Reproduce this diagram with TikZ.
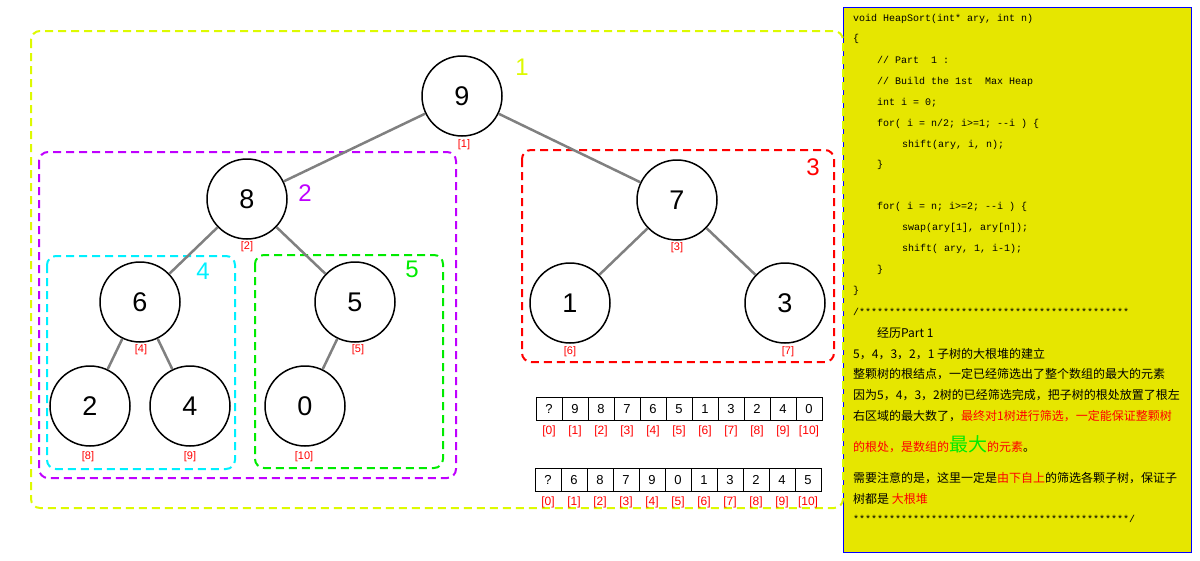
\documentclass[tikz,border=0pt]{standalone}
\usepackage{fontspec}
\setmainfont{Liberation Sans}
\setmonofont{Liberation Mono}
\newfontfamily\cjk{Noto Sans CJK SC}
\definecolor{pannello}{RGB}{230,230,0}
\definecolor{gialloverde}{RGB}{221,250,0}
\definecolor{viola}{RGB}{191,0,255}
\definecolor{verde}{RGB}{0,235,0}
\definecolor{ciano}{RGB}{0,240,255}
\tikzset{
    nodo/.style={circle, draw, line width=1.5pt, fill=white, minimum size=80pt, inner sep=0pt, font=\fontsize{27}{28}\selectfont},
    ramo/.style={gray, line width=2.5pt},
    indice/.style={text=red, inner sep=0pt, font=\fontsize{11}{12}\selectfont},
    riquadro/.style={line width=2pt, rounded corners=9pt, dash pattern=on 8pt off 5pt},
    numero/.style={inner sep=0pt, font=\fontsize{24}{26}\selectfont},
    cella/.style={draw, line width=1pt, minimum width=26pt, minimum height=23pt, inner sep=0pt, font=\fontsize{13}{14}\selectfont},
    codice/.style={anchor=base west, inner sep=0pt, font=\ttfamily\fontsize{10}{12}\selectfont},
    testo/.style={anchor=base west, inner sep=0pt, font=\cjk\fontsize{12}{14}\selectfont},
}
\begin{document}
\begin{tikzpicture}[x=1pt, y=-1pt]
    \useasboundingbox (0,0) rectangle (1200,560);

    % Pannello con il codice
    \draw[blue, line width=1pt, fill=pannello] (843,7) rectangle (1191,552);
    \node[codice] (c1) at (853,21) {void HeapSort(int* ary, int n)};
    \node[codice] (c2) at (853,41) {\{};
    \node[codice] (c3) at (877,63) {// Part\ \ 1 :};
    \node[codice] (c4) at (877,84) {// Build the 1st\ \ Max Heap};
    \node[codice] (c5) at (877,105) {int i = 0;};
    \node[codice] (c6) at (877,126) {for( i = n/2; i>=1; --i ) \{};
    \node[codice] (c7) at (902,147) {shift(ary, i, n);};
    \node[codice] (c8) at (877,167) {\}};
    \node[codice] (c9) at (877,209) {for( i = n; i>=2; --i ) \{};
    \node[codice] (c10) at (902,230) {swap(ary[1], ary[n]);};
    \node[codice] (c11) at (902,251) {shift( ary, 1, i-1);};
    \node[codice] (c12) at (877,272) {\}};
    \node[codice] (c13) at (853,293) {\}};
    \node[codice] (c14) at (853,315) {/*********************************************};

    % Commento in cinese
    \node[testo] (t1) at (877,337) {经历Part 1};
    \node[testo] (t2) at (853,358) {5，4，3，2，1 子树的大根堆的建立};
    \node[testo] (t3) at (853,378) {整颗树的根结点，一定已经筛选出了整个数组的最大的元素};
    \node[testo] (t4) at (853,399) {因为5，4，3，2树的已经筛选完成，把子树的根处放置了根左};
    \node[testo] (t5) at (853,420) {右区域的最大数了，\textcolor{red}{最终对1树进行筛选，一定能保证整颗树}};
    \node[testo] (t6) at (853,451) {\textcolor{red}{的根处，是数组的}\textcolor{verde}{\fontsize{19}{20}\selectfont 最大}\textcolor{red}{的元素}。};
    \node[testo] (t7) at (853,482) {需要注意的是，这里一定是\textcolor{red}{由下自上}的筛选各颗子树，保证子};
    \node[testo] (t8) at (853,503) {树都是 \textcolor{red}{大根堆}};
    \node[codice] (c15) at (853,522) {**********************************************/};

    % Riquadri dei sottoalberi
    \draw[riquadro, gialloverde] (31,31) rectangle (843,508);
    \draw[riquadro, viola] (39,152) rectangle (456,478);
    \draw[riquadro, red] (522,150) rectangle (834,362);
    \draw[riquadro, ciano] (47,256) rectangle (235,469);
    \draw[riquadro, verde] (255,255) rectangle (443,468);
    \node[numero, text=gialloverde] (e1) at (522,67) {1};
    \node[numero, text=viola] (e2) at (305,193) {2};
    \node[numero, text=red] (e3) at (813,167) {3};
    \node[numero, text=ciano] (e4) at (203,271) {4};
    \node[numero, text=verde] (e5) at (412,269) {5};

    % Albero
    \node[nodo] (n1) at (462,96) {9};
    \node[nodo] (n2) at (247,199) {8};
    \node[nodo] (n3) at (677,200) {7};
    \node[nodo] (n4) at (140,302) {6};
    \node[nodo] (n5) at (355,302) {5};
    \node[nodo] (n6) at (570,303) {1};
    \node[nodo] (n7) at (785,303) {3};
    \node[nodo] (n8) at (90,406) {2};
    \node[nodo] (n9) at (190,406) {4};
    \node[nodo] (n10) at (305,406) {0};
    \draw[ramo] (n1) -- (n2);
    \draw[ramo] (n1) -- (n3);
    \draw[ramo] (n2) -- (n4);
    \draw[ramo] (n2) -- (n5);
    \draw[ramo] (n3) -- (n6);
    \draw[ramo] (n3) -- (n7);
    \draw[ramo] (n4) -- (n8);
    \draw[ramo] (n4) -- (n9);
    \draw[ramo] (n5) -- (n10);

    % Indici dei nodi
    \node[indice] (i1) at (464,145) {[1]};
    \node[indice] (i2) at (247,247) {[2]};
    \node[indice] (i3) at (677,248) {[3]};
    \node[indice] (i4) at (141,350) {[4]};
    \node[indice] (i5) at (358,350) {[5]};
    \node[indice] (i6) at (570,352) {[6]};
    \node[indice] (i7) at (788,352) {[7]};
    \node[indice] (i8) at (88,457) {[8]};
    \node[indice] (i9) at (190,457) {[9]};
    \node[indice] (i10) at (304,457) {[10]};

    % Array prima e dopo
    \foreach \v [count=\i from 0] in {?,9,8,7,6,5,1,3,2,4,0} {
        \node[cella] (a\i) at ({549+26*\i},409) {\v};
        \node[indice, font=\fontsize{12}{13}\selectfont] (la\i) at ({549+26*\i},431) {[\i]};
    }
    \foreach \v [count=\i from 0] in {?,6,8,7,9,0,1,3,2,4,5} {
        \node[cella] (b\i) at ({548+26*\i},480) {\v};
        \node[indice, font=\fontsize{12}{13}\selectfont] (lb\i) at ({548+26*\i},502) {[\i]};
    }
\end{tikzpicture}
\end{document}
